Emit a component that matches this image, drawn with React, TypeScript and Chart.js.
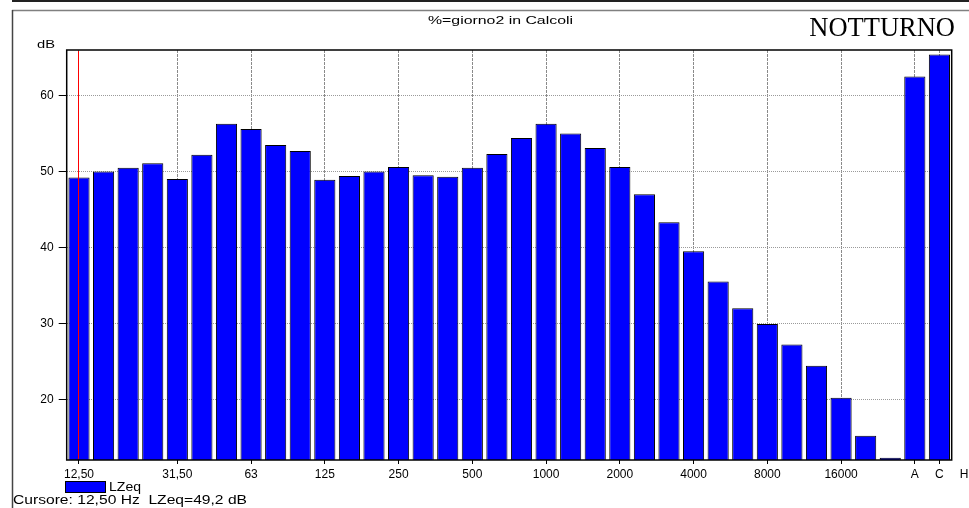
import React, { useEffect, useRef } from "react";
import { Chart, registerables } from "chart.js";

Chart.register(...registerables);

// ---- data ----
const categories = [
  "12,50", "16", "20", "25", "31,50", "40", "50", "63", "80", "100", "125", "160",
  "200", "250", "315", "400", "500", "630", "800", "1000", "1250", "1600", "2000", "2500",
  "3150", "4000", "5000", "6300", "8000", "10000", "12500", "16000", "20000", "", "A", "C",
];
const lzeqValues = [
  49.2, 50.0, 50.5, 51.1, 49.0, 52.2, 56.3, 55.6, 53.5, 52.7, 48.9, 49.4,
  50.0, 50.6, 49.5, 49.3, 50.5, 52.3, 54.4, 56.3, 55.0, 53.1, 50.6, 47.0,
  43.3, 39.5, 35.5, 32.0, 29.9, 27.2, 24.4, 20.2, 15.2, 12.3, 62.5, 65.4,
];
const xTickLabels = ["12,50", "31,50", "63", "125", "250", "500", "1000", "2000", "4000", "8000", "16000", "A", "C"];
const xExtraTickLabel = "H";
const yTickValues = [20, 30, 40, 50, 60];
const yMin = 12;
const yMax = 66;
const cursorIndex = 0;
const seriesName = "LZeq";
const unitLabel = "dB";
const chartTitle = "%=giorno2 in Calcoli";
const sideLabel = "NOTTURNO";
const cursorText = "Cursore: 12,50 Hz  LZeq=49,2 dB";

const W = 969;
const H = 508;
const SANS = "'Liberation Sans', Arial, Helvetica, sans-serif";
const SERIF = "'Liberation Serif', 'Times New Roman', serif";

const isLabelled = (i: number) => categories[i] !== "" && xTickLabels.includes(categories[i]);

// draw text stretched horizontally so it spans [left, right]
function stretchedText(ctx: CanvasRenderingContext2D, text: string, left: number, right: number, baseline: number, font: string) {
  ctx.save();
  ctx.font = font;
  ctx.textAlign = "left";
  ctx.textBaseline = "alphabetic";
  const w = ctx.measureText(text).width;
  const sx = (right - left) / w;
  ctx.translate(left, baseline);
  ctx.scale(sx, 1);
  ctx.fillText(text, 0, 0);
  ctx.restore();
}

const decorPlugin = {
  id: "decor",
  beforeDraw(chart: any) {
    const ctx = chart.ctx as CanvasRenderingContext2D;
    ctx.save();
    ctx.fillStyle = "#ffffff";
    ctx.fillRect(0, 0, W, H);
    ctx.strokeStyle = "#222";
    ctx.lineWidth = 2;
    ctx.beginPath();
    ctx.moveTo(12, 1);
    ctx.lineTo(W, 1);
    ctx.stroke();
    ctx.strokeStyle = "#808080";
    ctx.lineWidth = 1.5;
    ctx.beginPath();
    ctx.moveTo(12, 10.5);
    ctx.lineTo(W, 10.5);
    ctx.stroke();
    ctx.strokeStyle = "#444";
    ctx.lineWidth = 1.5;
    ctx.beginPath();
    ctx.moveTo(12.5, 10);
    ctx.lineTo(12.5, H);
    ctx.stroke();
    ctx.restore();
  },
  afterDatasetsDraw(chart: any) {
    const ctx = chart.ctx as CanvasRenderingContext2D;
    const a = chart.chartArea;
    const xs = chart.scales.x;
    ctx.save();
    // plot frame
    ctx.strokeStyle = "#000";
    ctx.lineWidth = 1.5;
    ctx.strokeRect(a.left, a.top, a.right - a.left, a.bottom - a.top);
    // cursor
    const cx = Math.round(xs.getPixelForValue(cursorIndex)) - 0.5;
    ctx.strokeStyle = "#ff0000";
    ctx.lineWidth = 1;
    ctx.beginPath();
    ctx.moveTo(cx, a.top + 1);
    ctx.lineTo(cx, a.bottom - 1);
    ctx.stroke();
    ctx.restore();
  },
  afterDraw(chart: any) {
    const ctx = chart.ctx as CanvasRenderingContext2D;
    const a = chart.chartArea;
    const xs = chart.scales.x;
    ctx.save();
    ctx.fillStyle = "#000";
    // extra x label beyond the plot, aligned with the axis tick labels
    const lastLabel = xs._labelItems && xs._labelItems.length ? xs._labelItems[xs._labelItems.length - 1] : null;
    ctx.font = `12px ${SANS}`;
    ctx.textAlign = "center";
    if (lastLabel && lastLabel.options) {
      ctx.textBaseline = lastLabel.options.textBaseline || "top";
      ctx.fillText(xExtraTickLabel, xs.getPixelForValue(categories.length), lastLabel.options.translation[1] + (lastLabel.textOffset || 0));
    } else {
      ctx.textBaseline = "middle";
      ctx.fillText(xExtraTickLabel, xs.getPixelForValue(categories.length), a.bottom + 14);
    }
    // title
    stretchedText(ctx, chartTitle, 428, 573, 24, `11px ${SANS}`);
    // side label
    ctx.font = `26.5px ${SERIF}`;
    ctx.textAlign = "right";
    ctx.textBaseline = "alphabetic";
    ctx.fillText(sideLabel, 955, 36);
    // unit
    stretchedText(ctx, unitLabel, 37, 55, 48, `11px ${SANS}`);
    // legend
    const ds = chart.data.datasets[0];
    ctx.fillStyle = ds.backgroundColor;
    ctx.fillRect(65, 481, 40, 11);
    ctx.strokeStyle = "#000";
    ctx.lineWidth = 1;
    ctx.strokeRect(65.5, 481.5, 40, 11);
    ctx.fillStyle = "#000";
    stretchedText(ctx, ds.label, 109, 141, 491, `12px ${SANS}`);
    // cursor readout
    stretchedText(ctx, cursorText, 13, 247, 504, `12px ${SANS}`);
    ctx.restore();
  },
};

export default function App() {
  const ref = useRef<HTMLCanvasElement | null>(null);
  useEffect(() => {
    if (!ref.current) return;
    const chart = new Chart(ref.current, {
      type: "bar",
      data: {
        labels: categories,
        datasets: [
          {
            label: seriesName,
            data: lzeqValues,
            backgroundColor: "#0000ff",
            borderColor: "#000000",
            borderWidth: 1,
            categoryPercentage: 1,
            barPercentage: 0.86,
          },
        ],
      },
      options: {
        animation: false,
        responsive: false,
        devicePixelRatio: 1,
        layout: { padding: { left: 0, top: 50, right: 17.3, bottom: 0 } },
        plugins: { legend: { display: false }, title: { display: false }, tooltip: { enabled: false } },
        scales: {
          x: {
            type: "category",
            offset: true,
            afterFit: (s: any) => {
              s.height = 48;
            },
            grid: {
              offset: false,
              drawOnChartArea: true,
              drawTicks: true,
              tickLength: 4,
              lineWidth: 1,
              color: (c: any) => (isLabelled(c.index) ? "#8a8a8a" : "rgba(0,0,0,0)"),
              tickColor: (c: any) => (isLabelled(c.index) ? "#000" : "rgba(0,0,0,0)"),
              tickBorderDash: [],
            },
            border: { display: false, dash: [3, 1] },
            ticks: {
              autoSkip: false,
              maxRotation: 0,
              minRotation: 0,
              padding: 3,
              color: "#000",
              font: { family: SANS, size: 12 },
              callback: (_v: any, i: number) => (isLabelled(i) ? categories[i] : ""),
            },
          },
          y: {
            type: "linear",
            min: yMin,
            max: yMax,
            afterFit: (s: any) => {
              s.width = 66.7;
            },
            afterBuildTicks: (s: any) => {
              s.ticks = yTickValues.map((v) => ({ value: v }));
            },
            grid: {
              color: "#9a9a9a",
              tickColor: "#000",
              tickLength: 8,
              lineWidth: 1,
              tickBorderDash: [],
            },
            border: { display: false, dash: [1, 1] },
            ticks: {
              padding: 5,
              color: "#000",
              font: { family: SANS, size: 12 },
            },
          },
        },
      },
      plugins: [decorPlugin],
    });
    return () => chart.destroy();
  }, []);
  return (
    <div style={{ position: "fixed", left: 0, top: 0, width: W, height: H, background: "#fff" }}>
      <canvas ref={ref} width={W} height={H} style={{ width: W, height: H, display: "block" }} />
    </div>
  );
}
